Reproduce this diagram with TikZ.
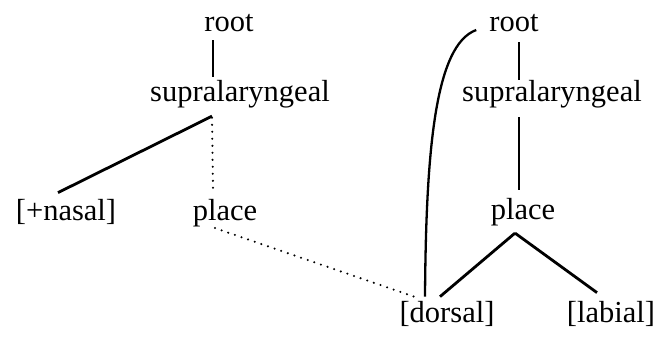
\documentclass[tikz,border=0pt]{standalone}
\usepackage{fontspec}
\setmainfont{Liberation Serif}
\usetikzlibrary{calc}

\begin{document}
\begin{tikzpicture}[x=1pt, y=-1pt,
    feat/.style={anchor=base, inner sep=0pt, font=\fontsize{30.5}{36}\selectfont},
    thinlink/.style={line width=1.4pt},
    thicklink/.style={line width=2.8pt},
    dotlink/.style={line width=2.3pt, dash pattern=on 0pt off 7pt, line cap=round}]
    \useasboundingbox (0,0) rectangle (655,337);

    % Left tree
    \node[feat] (rootL)  at (229, 32)  {root};
    \node[feat] (supL)   at (240, 101) {supralaryngeal};
    \node[feat] (nasal)  at (66, 220)  {[+nasal]};
    \node[feat] (placeL) at (225, 220) {place};

    % Right tree
    \node[feat] (rootR)  at (514, 32)  {root};
    \node[feat] (supR)   at (552, 101) {supralaryngeal};
    \node[feat] (placeR) at (523, 219) {place};
    \node[feat] (dorsal) at (447, 322) {[dorsal]};
    \node[feat] (labial) at (611, 322) {[labial]};

    % Left links
    \draw[thinlink] ($(rootL.south)+(-16,8)$) -- ($(supL.north)+(-27,-3)$);
    \draw[thicklink] ($(supL.south)+(-28,8.4)$) -- ($(nasal.north)+(-8,-6)$);
    \draw[dotlink] ($(supL.south)+(-28,10)$) -- ($(placeL.north)+(-12,-9)$);
    \draw[dotlink] ($(placeL.south)+(-10,1.4)$) -- ($(dorsal.north)+(-30,-3)$);

    % Right links
    \draw[thinlink] ($(rootR.south)+(5,10)$) -- ($(supR.north)+(-33,0)$);
    \draw[thinlink] ($(supR.south)+(-33,9.4)$) -- ($(placeR.north)+(-4,-8)$);
    \draw[thicklink] ($(placeR.south)+(-8,7.4)$) -- ($(dorsal.north)+(-7,-4)$);
    \draw[thicklink] ($(placeR.south)+(-8,7.4)$) -- ($(labial.north)+(-14,-8)$);

    % Dorsal linked straight to root
    \draw[line width=2.3pt] ($(dorsal.north)+(-22,-4)$)
      .. controls (426,150) and (435,45) .. ($(rootR.base west)+(-13,-2)$);
\end{tikzpicture}
\end{document}
